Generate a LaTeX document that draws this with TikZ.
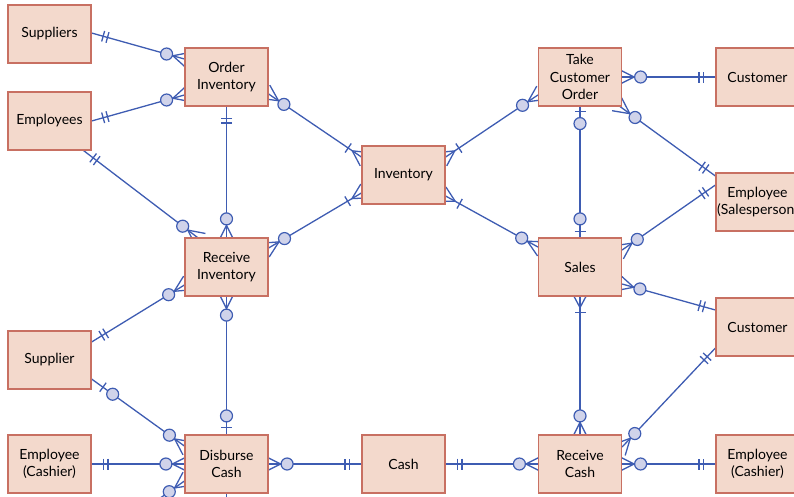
\documentclass[tikz,border=0pt]{standalone}
\usepackage{fontspec}
\setmainfont{Lato}
\usetikzlibrary{calc}
\definecolor{erblue}{RGB}{62,92,178}
\definecolor{boxfill}{RGB}{243,217,204}
\definecolor{boxdraw}{RGB}{200,112,98}
\definecolor{circfill}{RGB}{208,211,234}
\pgfdeclarelayer{bg}
\pgfsetlayers{bg,main}
\tikzset{
 erbox/.style={draw=boxdraw, fill=boxfill, line width=1.2pt, minimum width=83pt, minimum height=58pt, inner sep=0pt, align=center, font=\fontsize{14}{17.5}\selectfont},
 erline/.style={draw=erblue, line width=1.3pt},
 ercirc/.style={circle, draw=erblue, fill=circfill, line width=1.2pt, minimum size=12pt, inner sep=0pt},
}
\newcommand\mkbar[3]{\path ($(#1)!#3!(#2)$) coordinate (mA); \draw[erline] ($(mA)!5.5pt!90:(#2)$) -- ($(mA)!5.5pt!-90:(#2)$);}
\newcommand\mkbars[2]{\mkbar{#1}{#2}{12pt}\mkbar{#1}{#2}{16.5pt}}
\newcommand\mkcrow[3]{\path ($(#1)!-4pt!(#2)$) coordinate (mP) ($(#1)!#3!(#2)$) coordinate (mQ);
  \draw[erline] ($(mP)!8pt!90:(#2)$) -- (mQ) -- ($(mP)!8pt!-90:(#2)$);}
\newcommand\mkzmany[2]{\mkcrow{#1}{#2}{12pt}\node[ercirc] at ($(#1)!18.5pt!(#2)$) {};}
\newcommand\mkomany[2]{\mkcrow{#1}{#2}{11pt}\mkbar{#1}{#2}{16pt}}
\newcommand\mkzone[4]{\mkbar{#1}{#2}{#3}\node[ercirc] at ($(#1)!#4!(#2)$) {};}
\begin{document}
\begin{tikzpicture}[x=1pt,y=-1pt]
\useasboundingbox (0,0) rectangle (794,496);
\clip (0,0) rectangle (794,496);
% entities / events
\node[erbox] (Sup)   at (49.5,34)  {Suppliers};
\node[erbox] (Emp)   at (49.5,121) {Employees};
\node[erbox] (OI)    at (226.5,77) {Order\\Inventory};
\node[erbox] (RI)    at (226.5,267) {Receive\\Inventory};
\node[erbox] (Spl)   at (49.5,360) {Supplier};
\node[erbox] (EC1)   at (49.5,464) {Employee\\(Cashier)};
\node[erbox] (DC)    at (226.5,464) {Disburse\\Cash};
\node[erbox] (Inv)   at (403.5,175) {Inventory};
\node[erbox] (Cash)  at (403.5,464) {Cash};
\node[erbox] (TCO)   at (580,77) {Take\\Customer\\Order};
\node[erbox] (Sales) at (580,267) {Sales};
\node[erbox] (RC)    at (580,464) {Receive\\Cash};
\node[erbox] (Cust1) at (757.5,77) {Customer};
\node[erbox] (EmpS)  at (757.5,202) {Employee\\(Salesperson)};
\node[erbox] (Cust2) at (757.5,327) {Customer};
\node[erbox] (EC2)   at (757.5,464) {Employee\\(Cashier)};
\begin{pgfonlayer}{bg}
\begin{scope}
\clip (0,0) rectangle (794,496);
% endpoints
\coordinate (a1) at ($(Sup.east)+(0,-1)$);   \coordinate (b1) at ($(OI.west)+(0,-18)$);
\coordinate (a2) at (Emp.east);              \coordinate (b2) at ($(OI.west)+(0,18)$);
\coordinate (a3) at ($(Emp.south east)+(-8,0)$); \coordinate (b3) at ($(RI.north west)+(13,0)$);
\coordinate (a4) at (OI.south);              \coordinate (b4) at (RI.north);
\coordinate (a5) at ($(OI.east)+(0,17)$);    \coordinate (b5) at ($(Inv.west)+(0,-18)$);
\coordinate (a6) at ($(RI.east)+(0,-19)$);   \coordinate (b6) at ($(Inv.west)+(0,18)$);
\coordinate (a7) at ($(Inv.east)+(0,-18)$);  \coordinate (b7) at ($(TCO.west)+(0,18)$);
\coordinate (a8) at ($(Inv.east)+(0,21)$);   \coordinate (b8) at ($(Sales.west)+(0,-20)$);
\coordinate (a9) at (TCO.east);              \coordinate (b9) at (Cust1.west);
\coordinate (a10) at ($(TCO.south east)+(-2,0)$); \coordinate (b10) at ($(EmpS.west)+(0,-26)$);
\coordinate (a11) at (TCO.south);            \coordinate (b11) at (Sales.north);
\coordinate (a12) at ($(Sales.east)+(0,-17)$); \coordinate (b12) at ($(EmpS.west)+(0,-17)$);
\coordinate (a13) at ($(Sales.east)+(0,17)$);  \coordinate (b13) at ($(Cust2.west)+(0,-17)$);
\coordinate (a14) at (Sales.south);          \coordinate (b14) at (RC.north);
\coordinate (a15) at ($(RC.east)+(0,-17)$);  \coordinate (b15) at ($(Cust2.west)+(0,21)$);
\coordinate (a16) at (RC.east);              \coordinate (b16) at (EC2.west);
\coordinate (a17) at (Cash.east);            \coordinate (b17) at (RC.west);
\coordinate (a18) at (DC.east);              \coordinate (b18) at (Cash.west);
\coordinate (a19) at (EC1.east);             \coordinate (b19) at (DC.west);
\coordinate (a20) at ($(Spl.east)+(0,19)$);  \coordinate (b20) at ($(DC.west)+(0,-18)$);
\coordinate (a21) at ($(Spl.east)+(0,-18)$); \coordinate (b21) at ($(RI.west)+(0,18)$);
\coordinate (a22) at (RI.south);             \coordinate (b22) at (DC.north);
\coordinate (a23) at ($(DC.west)+(0,17)$);   \coordinate (b23) at (115,530);
\coordinate (a24) at (DC.south);             \coordinate (b24) at (226.5,520);
% lines
\foreach \i in {1,...,24} {\draw[erline] (a\i) -- (b\i);}
% markers
\mkbars{a1}{b1} \mkzmany{b1}{a1}
\mkbars{a2}{b2} \mkzmany{b2}{a2}
\mkbars{a3}{b3} \mkzmany{b3}{a3}
\mkbars{a4}{b4} \mkzmany{b4}{a4}
\mkzmany{a5}{b5} \mkomany{b5}{a5}
\mkzmany{a6}{b6} \mkomany{b6}{a6}
\mkomany{a7}{b7} \mkzmany{b7}{a7}
\mkomany{a8}{b8} \mkzmany{b8}{a8}
\mkzmany{a9}{b9} \mkbars{b9}{a9}
\mkzmany{a10}{b10} \mkbars{b10}{a10}
\mkzone{a11}{b11}{5pt}{17pt} \mkzone{b11}{a11}{6pt}{18.5pt}
\mkzmany{a12}{b12} \mkbars{b12}{a12}
\mkzmany{a13}{b13} \mkbars{b13}{a13}
\mkomany{a14}{b14} \mkzmany{b14}{a14}
\mkzmany{a15}{b15} \mkbars{b15}{a15}
\mkzmany{a16}{b16} \mkbars{b16}{a16}
\mkbars{a17}{b17} \mkzmany{b17}{a17}
\mkzmany{a18}{b18} \mkbars{b18}{a18}
\mkbars{a19}{b19} \mkzmany{b19}{a19}
\mkzone{a20}{b20}{14pt}{26pt} \mkzmany{b20}{a20}
\mkbars{a21}{b21} \mkzmany{b21}{a21}
\mkzmany{a22}{b22} \mkzone{b22}{a22}{7pt}{18.5pt}
\mkzmany{a23}{b23}
\end{scope}
\end{pgfonlayer}
\end{tikzpicture}
\end{document}
